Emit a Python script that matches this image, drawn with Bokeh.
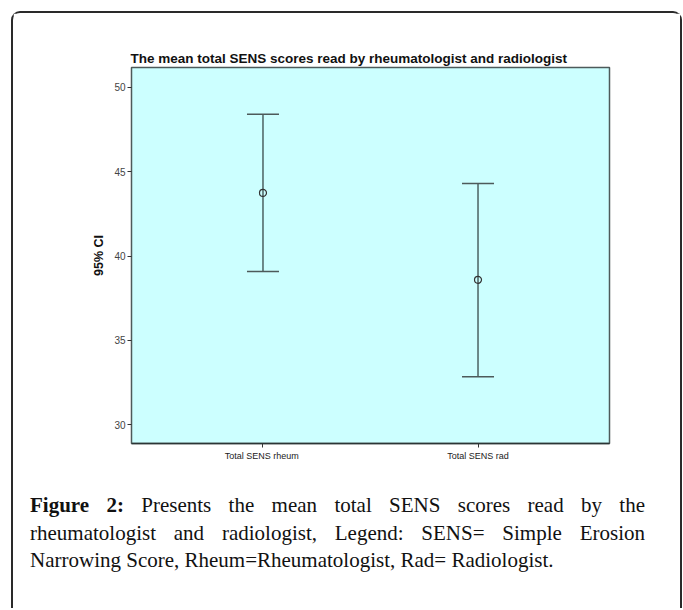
from bokeh.plotting import figure
from bokeh.models import ColumnDataSource, Range1d, FactorRange, Whisker, TeeHead, Div, FixedTicker
from bokeh.layouts import column
from bokeh.embed import file_html
from bokeh.resources import INLINE

categories = ["Total SENS  rheum", "Total SENS rad"]
means = [43.74, 38.59]
lower = [39.08, 32.84]
upper = [48.40, 44.30]
y_ticks = [30, 35, 40, 45, 50]

src = ColumnDataSource(dict(cat=categories, mean=means, lower=lower, upper=upper))

p = figure(
    width=667, height=459,
    x_range=FactorRange(*categories, range_padding=0.1115),
    y_range=Range1d(28.89, 51.17),
    output_backend="svg", toolbar_location=None,
    title="The mean total SENS scores read by rheumatologist and radiologist",
)
p.min_border_left = 118
p.min_border_right = 71
p.min_border_top = 54
p.min_border_bottom = 29

p.background_fill_color = "#CCFFFF"
p.border_fill_color = "white"
p.outline_line_color = "#4d5a5a"
p.outline_line_width = 1.5
p.grid.visible = False

p.title.text_font = "Liberation Sans"
p.title.text_font_size = "13.5px"
p.title.text_font_style = "bold"
p.title.text_color = "#111111"
p.title.offset = -1
p.title.standoff = 3

p.yaxis.ticker = FixedTicker(ticks=y_ticks)
p.yaxis.axis_label = "95% CI"
p.yaxis.axis_label_text_font = "Liberation Sans"
p.yaxis.axis_label_text_font_size = "12.5px"
p.yaxis.axis_label_text_font_style = "bold"
p.yaxis.axis_label_text_color = "#111111"
p.yaxis.axis_label_standoff = 5
p.yaxis.major_label_text_font = "Liberation Sans"
p.yaxis.major_label_text_font_size = "10px"
p.yaxis.major_label_text_color = "#444444"
p.yaxis.major_label_standoff = 2
p.yaxis.major_tick_in = 0
p.yaxis.major_tick_out = 4
p.yaxis.minor_tick_line_color = None
p.yaxis.axis_line_color = "#4d5a5a"
p.yaxis.major_tick_line_color = "#333333"

p.xaxis.major_label_text_font = "Liberation Sans"
p.xaxis.major_label_text_font_size = "9px"
p.xaxis.major_label_text_color = "#222222"
p.xaxis.major_tick_in = 0
p.xaxis.major_tick_out = 4
p.xaxis.major_label_standoff = 3
p.xaxis.axis_line_color = "#2b3535"
p.xaxis.axis_line_width = 1.5
p.xaxis.major_tick_line_color = "#333333"

w = Whisker(source=src, base="cat", upper="upper", lower="lower",
            line_color="#2b3a3a", line_width=1.2,
            upper_head=TeeHead(size=32, line_color="#4d5a5a", line_width=1.5),
            lower_head=TeeHead(size=32, line_color="#4d5a5a", line_width=1.5))
p.add_layout(w)
p.scatter(x="cat", y="mean", source=src, marker="circle", size=7,
          fill_color=None, line_color="#333333", line_width=1.2)

cap_html = """
<div style="font-family:'Liberation Serif',serif; font-size:21px; line-height:27.5px; color:#111; width:615px; margin-left:12px; margin-top:15px;">
<div style="text-align:justify; text-align-last:justify;"><b>Figure 2:</b> Presents the mean total SENS scores read by the</div>
<div style="text-align:justify; text-align-last:justify;">rheumatologist and radiologist, Legend: SENS= Simple Erosion</div>
<div>Narrowing Score, Rheum=Rheumatologist, Rad= Radiologist.</div>
</div>
"""
cap = Div(text=cap_html, width=667, height=126)

layout = column(p, cap, width=671, sizing_mode="fixed", styles={
    "border-left": "2px solid #2a2a2a",
    "border-top": "2px solid #2a2a2a",
    "border-right": "2px solid #2a2a2a",
    "border-top-left-radius": "9px",
    "border-top-right-radius": "9px",
    "margin-left": "11px",
    "margin-top": "11px",
})

open("out.html", "w").write(file_html(layout, INLINE))
